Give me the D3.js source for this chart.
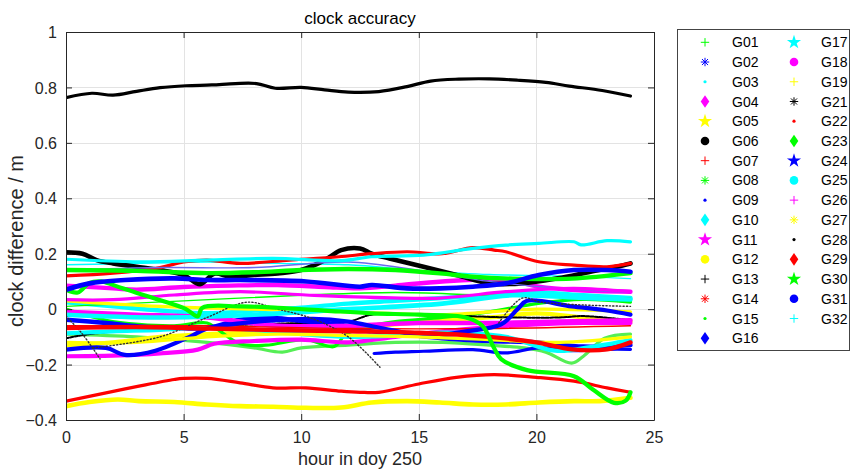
<!DOCTYPE html>
<html>
<head>
<meta charset="utf-8">
<script src="https://cdn.jsdelivr.net/npm/d3@7"></script>
<style>
  body { margin: 0; background: #fff; }
  svg { display: block; font-family: "Liberation Sans", Arial, Helvetica, sans-serif; }
</style>
</head>
<body>
<svg id="chart" width="851" height="470"></svg>
<script>
// ---- axis ticks ----
const xTicks = [0, 5, 10, 15, 20, 25];
const yTicks = [-0.4, -0.2, 0, 0.2, 0.4, 0.6, 0.8, 1];

// ---- satellite list (legend order) ----
const prns = ["G01","G02","G03","G04","G05","G06","G07","G08","G09","G10","G11","G12","G13","G14","G15","G16",
              "G17","G18","G19","G21","G22","G23","G24","G25","G26","G27","G28","G29","G30","G31","G32"];

// ---- clock difference series: [hour of day, metres]; null marks a data gap ----
const G01 = [[0,-0.09],[3,-0.10],[6,-0.12],[8,-0.14],[9.2,-0.155],[10,-0.14],[12,-0.13],[14,-0.12],[16,-0.12],[18,-0.13],[19.5,-0.14],[20.4,-0.155],[21.5,-0.195],[22,-0.17],[22.9,-0.105],[24,-0.09]];
const G02 = [[13.1,-0.16],[14,-0.155],[15.2,-0.152],[17.3,-0.146],[18.7,-0.158],[20.1,-0.14],[21.6,-0.15],[23,-0.145],[24,-0.145]];
const G03 = [[0,0.16],[3,0.165],[6,0.17],[9,0.165],[12,0.16],[15,0.14],[18,0.125],[21,0.12],[24,0.11]];
const G04 = [[0,0.085],[2,0.075],[3,0.07],[5,0.08],[7,0.085],[9,0.087],[11,0.08],[12.5,0.075],[14,0.085],[16,0.1],[18.7,0.105],[20.1,0.081],[21.6,0.069],[24,0.063]];
const G05 = [[0,-0.13],[2,-0.12],[4,-0.10],[6,-0.09],[8,-0.085],[10,-0.08],[12,-0.07],[14,-0.055],[16,-0.04],[18,-0.03],[20,-0.015],[22,-0.03],[24,-0.045]];
const G06 = [[0,0.205],[0.7,0.2],[1.3,0.177],[2,0.165],[3,0.153],[4,0.141],[5,0.123],[5.7,0.09],[6.3,0.128],[7,0.117],[8,0.123],[9,0.129],[10,0.141],[11,0.177],[11.7,0.213],[12.5,0.219],[13,0.2],[13.75,0.183],[15.2,0.153],[16.6,0.123],[18,0.093],[19.4,0.093],[20.9,0.111],[22.3,0.135],[23.4,0.153],[24,0.165]];
const G07 = [[0,0.12],[2,0.13],[4,0.15],[5,0.17],[6,0.177],[7.4,0.165],[9.5,0.177],[11.6,0.189],[13,0.2],[14.5,0.207],[16,0.2],[17.3,0.222],[18.2,0.213],[18.7,0.207],[20.1,0.171],[21.6,0.159],[23,0.153],[24,0.165]];
const G08 = [[0,0.0],[1.7,-0.04],[3.1,-0.055],[4.6,-0.06],[6,-0.05],[6.4,-0.07],[7.4,-0.125],[8.5,-0.13],[10.2,-0.11],[11.4,-0.135],[11.9,-0.09],[13,-0.06],[14,-0.045],[16,-0.03],[18,-0.01],[20,0.02],[22,0.035],[24,0.025]];
const G09 = [[0,0.14],[4,0.15],[8,0.15],[12,0.17],[15,0.14],[18,0.10],[21,0.075],[24,0.06]];
const G10 = [[0,0.025],[2,0.01],[4,-0.005],[6,-0.015],[8,-0.005],[10,0.005],[12,0.02],[14,0.03],[16,0.04],[18,0.05],[20,0.06],[22,0.05],[24,0.04]];
const G11 = [[0,-0.17],[2,-0.168],[4,-0.16],[5.6,-0.146],[6.3,-0.125],[8,-0.115],[10,-0.11],[12,-0.12],[14,-0.1],[16,-0.08],[18,-0.065],[20,-0.055],[22,-0.05],[24,-0.05]];
const G12 = [[0,-0.35],[1,-0.335],[2.2,-0.326],[3.1,-0.332],[4.6,-0.335],[6,-0.344],[7.4,-0.35],[8.8,-0.352],[10.2,-0.356],[11.7,-0.355],[13,-0.337],[14.5,-0.332],[15.9,-0.337],[17.3,-0.344],[18.7,-0.344],[20.1,-0.337],[21.6,-0.332],[22.7,-0.332],[24,-0.32]];
const G13 = [[0,-0.105],[1,-0.09],[3,-0.075],[5,-0.065],[6.3,-0.06],[8,-0.055],[10,-0.05],[12,-0.045],[13,-0.02],[15,-0.02],[17,-0.025],[19,-0.03],[21,-0.03],[22,-0.025],[24,-0.04]];
const G14 = [[0,-0.332],[1.7,-0.302],[3.1,-0.278],[4.6,-0.254],[5,-0.25],[6,-0.25],[7.4,-0.266],[8.8,-0.284],[10.2,-0.284],[11.7,-0.296],[12.5,-0.30],[13.3,-0.30],[15,-0.27],[16.6,-0.246],[18.2,-0.236],[20,-0.246],[21.6,-0.26],[23,-0.284],[24,-0.30]];
const G15 = [[0,0.01],[5,0.03],[10,0.05],[14,0.06],[18,0.05],[24,0.04]];
const G16 = [[0,-0.038],[1.7,-0.05],[3.1,-0.062],[4.6,-0.068],[6,-0.068],[7.4,-0.038],[8.8,-0.032],[10.2,-0.044],[11.7,-0.056],[12.5,-0.075],[13,-0.08],[14.5,-0.092],[16,-0.105],[18,-0.115],[20,-0.12],[22,-0.135],[24,-0.13]];
const G17 = [[0,-0.087],[2,-0.08],[4,-0.075],[6,-0.065],[8,-0.075],[10,-0.09],[12,-0.1],[14,-0.095],[16,-0.085],[18.7,-0.1],[20.8,-0.15],[22.3,-0.137],[24,-0.112]];
const G18 = [[0,-0.01],[3,-0.02],[6,-0.03],[9,-0.06],[12,-0.06],[15,-0.05],[18,-0.05],[21,-0.045],[24,-0.04]];
const G19 = [[0,0.03],[4,0.01],[8,0.0],[12,-0.01],[16,-0.02],[20,0.0],[24,-0.01]];
const G21 = [[0,0.763],[1.1,0.779],[2,0.772],[3,0.786],[4,0.799],[5.1,0.806],[6.2,0.809],[7.2,0.814],[8.1,0.814],[8.9,0.797],[10,0.80],[11,0.791],[12,0.783],[13.3,0.785],[14.5,0.803],[15.5,0.823],[16.7,0.83],[18,0.831],[19.2,0.826],[20.4,0.818],[21.4,0.805],[22.8,0.789],[24,0.769]];
const G22 = [[0,-0.06],[6,-0.06],[12,-0.07],[18,-0.07],[24,-0.06]];
const G23 = [[0,0.141],[3,0.138],[6,0.13],[8,0.133],[10,0.141],[12,0.145],[14,0.141],[15.9,0.129],[17.3,0.117],[19,0.11],[21.5,0.11],[24,0.13]];
const G24 = [[0,-0.146],[1.7,-0.14],[2.5,-0.165],[3.8,-0.15],[5.3,-0.098],[6,-0.07],[7.5,-0.05],[9,-0.04],[10.5,-0.035],[12,-0.045],[13.5,-0.07],[15.3,-0.095],[17,-0.08],[18.5,-0.055],[19.2,0.0],[19.6,0.03],[21.5,0.01],[23,-0.005],[24,-0.02]];
const G25 = [[0,-0.02],[4,-0.03],[8,-0.02],[12,0.0],[16,0.02],[19,0.05],[22,0.04],[24,0.035]];
const G26 = [[0,0.034],[2,0.034],[4.6,0.051],[7.4,0.063],[10.2,0.051],[11.6,0.046],[15.9,0.04],[18.7,0.063],[21.6,0.075],[24,0.063]];
const G27 = [[0,-0.12],[3,-0.12],[6,-0.1],[9,-0.09],[12,-0.095],[15,-0.1],[18,-0.11],[21,-0.12],[24,-0.1]];
const G28 = [[0,-0.025],[0.7,-0.09],[1.45,-0.18], null,
             [1.15,-0.14],[4,-0.1],[6,-0.03],[7.7,0.025],[9,0.0],[10.5,-0.035],[12,-0.1],[13.35,-0.21], null,
             [18.4,-0.05],[19.4,0.04],[20.2,0.025],[22,0.015],[24,0.01]];
const G29 = [[0,-0.068],[3,-0.065],[6,-0.07],[9,-0.075],[12,-0.08],[15,-0.085],[18,-0.1],[20,-0.12],[21.5,-0.145],[23,-0.145],[24,-0.12]];
const G30 = [[0,0.07],[0.5,0.06],[1,0.095],[1.5,0.1],[2.4,0.075],[3.9,0.035],[5.1,0.0],[5.6,-0.026],[5.8,0.005],[7.4,0.01],[9,0.005],[11,-0.005],[13,-0.015],[15,-0.02],[17,-0.03],[17.7,-0.06],[18.2,-0.14],[18.5,-0.18],[19.6,-0.22],[21.6,-0.242],[22.4,-0.29],[23.3,-0.338],[23.8,-0.33],[24,-0.30]];
const G31 = [[0,0.07],[1,0.093],[2.5,0.105],[4.6,0.111],[6,0.105],[7.4,0.105],[10.2,0.1],[12.5,0.081],[13,0.087],[14.5,0.075],[15.9,0.075],[17.3,0.081],[18.7,0.093],[20.1,0.123],[21.6,0.141],[23,0.141],[24,0.135]];
const G32 = [[0,0.18],[3.1,0.171],[6,0.177],[8.8,0.183],[11.7,0.175],[13,0.189],[15.2,0.195],[17.3,0.219],[18.7,0.231],[20.1,0.237],[21.6,0.243],[21.9,0.232],[23,0.247],[24,0.243]];

const seriesData = { G01, G02, G03, G04, G05, G06, G07, G08, G09, G10, G11, G12, G13, G14, G15, G16,
                     G17, G18, G19, G21, G22, G23, G24, G25, G26, G27, G28, G29, G30, G31, G32 };

// ---- line style per satellite: colour + marker ----
const colorCycle = ["#00ff00", "#0000ff", "#00ffff", "#ff00ff", "#ffff00", "#000000", "#ff0000"];
const markerCycle = ["+", "*", ".", "d", "p", "o"];
const styleOf = (i) => ({ color: colorCycle[i % 7], marker: markerCycle[i % 6] });

// ---- layout ----
const svg = d3.select("#chart");
const W = 851, H = 470;
const plot = { left: 66, right: 654, top: 32, bottom: 420 };
const axisColor = "#262626";

const x = d3.scaleLinear().domain([0, 25]).range([plot.left, plot.right]);
const y = d3.scaleLinear().domain([-0.4, 1]).range([plot.bottom, plot.top]);

svg.append("rect").attr("width", W).attr("height", H).attr("fill", "#fff");

// grid
const grid = svg.append("g").attr("stroke", "#e3e3e3").attr("stroke-width", 1);
grid.selectAll(".gx").data(xTicks.slice(1, -1)).join("line")
  .attr("x1", d => Math.round(x(d)) + 0.5).attr("x2", d => Math.round(x(d)) + 0.5)
  .attr("y1", plot.top).attr("y2", plot.bottom);
grid.selectAll(".gy").data(yTicks.slice(1, -1)).join("line")
  .attr("y1", d => Math.round(y(d)) + 0.5).attr("y2", d => Math.round(y(d)) + 0.5)
  .attr("x1", plot.left).attr("x2", plot.right);

// series
svg.append("clipPath").attr("id", "plotClip")
  .append("rect").attr("x", plot.left).attr("y", plot.top)
  .attr("width", plot.right - plot.left).attr("height", plot.bottom - plot.top);

const widthOf = { "o": 4.6, "d": 4.4, "p": 4.2, "+": 3.2, "*": 3.2, ".": 1.4 };
const line = d3.line()
  .defined(d => d != null)
  .x(d => x(d[0])).y(d => y(d[1]))
  .curve(d3.curveCatmullRom.alpha(0.5));

const lines = svg.append("g").attr("clip-path", "url(#plotClip)")
  .attr("fill", "none").attr("stroke-linejoin", "round").attr("stroke-linecap", "round");
prns.forEach((p, i) => {
  const st = styleOf(i);
  const path = lines.append("path")
    .attr("d", line(seriesData[p]))
    .attr("stroke", st.color)
    .attr("stroke-width", widthOf[st.marker]);
  if (p === "G28") {
    // sparse black dots read as a grey dotted trace
    path.attr("stroke", "#333").attr("stroke-width", 1.4).attr("stroke-dasharray", "1.2,2.2");
  }
  if (p === "G13") path.attr("stroke-width", 2).attr("stroke-dasharray", "3,1.5");
  if (p === "G09") path.attr("stroke", "#6a6af0").attr("stroke-width", 1.4);
  if (p === "G01") path.attr("stroke", "#55ee55");
});

// axes (box with inward ticks on all four sides)
const tickLen = 6;
const fmt = d => (d === 0 ? "0" : d3.format("~g")(d));
const xAxisB = d3.axisBottom(x).tickValues(xTicks).tickSizeInner(-tickLen).tickSizeOuter(0).tickFormat(fmt);
const xAxisT = d3.axisTop(x).tickValues(xTicks).tickSizeInner(-tickLen).tickSizeOuter(0).tickFormat("");
const yAxisL = d3.axisLeft(y).tickValues(yTicks).tickSizeInner(-tickLen).tickSizeOuter(0).tickFormat(fmt);
const yAxisR = d3.axisRight(y).tickValues(yTicks).tickSizeInner(-tickLen).tickSizeOuter(0).tickFormat("");

function styleAxis(g) {
  g.selectAll(".domain").attr("stroke", axisColor);
  g.selectAll(".tick line").attr("stroke", axisColor);
  g.selectAll("text").attr("fill", axisColor).style("font-size", "16px")
    .style("font-family", '"Liberation Sans", Arial, sans-serif');
}
const gB = svg.append("g").attr("transform", `translate(0,${plot.bottom})`).call(xAxisB).call(styleAxis);
gB.selectAll("text").attr("y", 23).attr("dy", 0);
svg.append("g").attr("transform", `translate(0,${plot.top})`).call(xAxisT).call(styleAxis);
const gL = svg.append("g").attr("transform", `translate(${plot.left},0)`).call(yAxisL).call(styleAxis);
gL.selectAll("text").attr("x", -9).attr("dy", "0.35em");
svg.append("g").attr("transform", `translate(${plot.right},0)`).call(yAxisR).call(styleAxis);

// titles
svg.append("text").attr("x", (plot.left + plot.right) / 2).attr("y", 24)
  .attr("text-anchor", "middle").attr("fill", "#000").style("font-size", "17px").text("clock accuracy");
svg.append("text").attr("x", (plot.left + plot.right) / 2).attr("y", 465)
  .attr("text-anchor", "middle").attr("fill", axisColor).style("font-size", "18px").text("hour in doy 250");
svg.append("text").attr("transform", `translate(23,${(plot.top + plot.bottom) / 2 + 15}) rotate(-90)`)
  .attr("text-anchor", "middle").attr("fill", axisColor).style("font-size", "20px").text("clock difference / m");

// legend
const leg = svg.append("g");
leg.append("rect").attr("x", 677.5).attr("y", 29.5).attr("width", 172).attr("height", 321)
  .attr("fill", "#fff").attr("stroke", "#444").attr("stroke-width", 1);

function drawMarker(g, m, color) {
  const s = 4.2;
  if (m === "+") {
    g.append("path").attr("d", `M${-s},0H${s}M0,${-s}V${s}`).attr("stroke", color).attr("stroke-width", 1).attr("fill", "none");
  } else if (m === "*") {
    const k = s * 0.72;
    g.append("path").attr("d", `M${-s},0H${s}M0,${-s}V${s}M${-k},${-k}L${k},${k}M${-k},${k}L${k},${-k}`)
      .attr("stroke", color).attr("stroke-width", 1).attr("fill", "none");
  } else if (m === ".") {
    g.append("circle").attr("r", 1.6).attr("fill", color);
  } else if (m === "o") {
    g.append("circle").attr("r", 4.3).attr("fill", color);
  } else if (m === "d") {
    g.append("path").attr("d", "M0,-6.3L4.3,0L0,6.3L-4.3,0Z").attr("fill", color);
  } else if (m === "p") {
    g.append("path").attr("d", d3.symbol(d3.symbolStar, 62)()).attr("fill", color);
  }
}

const rowH = 19.73, row0 = 42.3;
prns.forEach((p, i) => {
  const col = i < 16 ? 0 : 1;
  const row = i < 16 ? i : i - 16;
  const cy = row0 + row * rowH;
  const mx = col === 0 ? 705 : 794;
  const tx = col === 0 ? 732 : 821;
  const st = styleOf(i);
  const g = leg.append("g").attr("transform", `translate(${mx},${cy})`);
  drawMarker(g, st.marker, st.color);
  leg.append("text").attr("x", tx).attr("y", cy).attr("dy", "0.36em")
    .attr("fill", "#000").style("font-size", "14px").text(p);
});
</script>
</body>
</html>
